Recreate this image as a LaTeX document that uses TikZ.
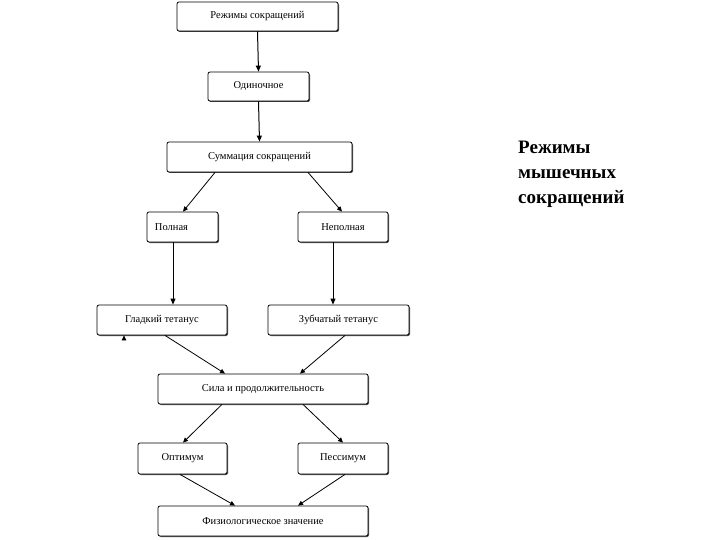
\documentclass[tikz,border=0pt]{standalone}
\usepackage{fontspec}
\setmainfont{Liberation Serif}
\usetikzlibrary{arrows.meta,shadows}
\begin{document}
\begin{tikzpicture}[x=1pt,y=-1pt,
 bx/.style={draw,rounded corners=2pt,line width=0.8pt,fill=white,
   drop shadow={shadow xshift=1pt,shadow yshift=-1pt,fill=black!70,opacity=1},
   font=\fontsize{10.5}{12}\selectfont,inner sep=0pt},
 ar/.style={-{Triangle[length=6pt,width=5pt]},line width=1pt},
 ar2/.style={-{Triangle[length=5pt,width=4.5pt]},line width=0.8pt}]
\useasboundingbox (0,0) rectangle (720,540);
\newcommand{\bb}[6]{\node[bx,minimum width=#3-#2,minimum height=#5-#4] (#1) at ({(#2+#3)/2},{(#4+#5)/2}) {#6};}
\bb{a}{177}{338}{2}{31}{Режимы сокращений}
\bb{b}{208}{309}{72}{101}{Одиночное}
\bb{c}{167}{352}{142}{172}{Суммация сокращений}
\bb{d}{147}{218}{212}{242}{\hspace*{-22pt}Полная}
\bb{e}{298}{388}{212}{242}{Неполная}
\bb{f}{97}{227}{305}{335}{Гладкий тетанус}
\bb{g}{268}{409}{305}{335}{Зубчатый тетанус}
\bb{h}{158}{368}{374}{404}{Сила и продолжительность}
\bb{i}{138}{227}{443}{474}{Оптимум}
\bb{j}{298}{388}{443}{474}{Пессимум}
\bb{k}{158}{368}{506}{536}{Физиологическое значение}
\draw[ar] (a.south) -- (b.north);
\draw[ar] (b.south) -- (c.north);
\draw[ar2] ([xshift=-44.5pt]c.south) -- ([xshift=0.5pt]d.north);
\draw[ar2] ([xshift=48.5pt]c.south) -- ([xshift=-1pt]e.north);
\draw[ar] ([xshift=-9.5pt]d.south) -- ([xshift=11pt]f.north);
\draw[ar] ([xshift=-10pt]e.south) -- ([xshift=-5.5pt]g.north);
\draw[ar2] ([xshift=-97pt]f.south) ++(59,0) coordinate (t1);
\draw[ar2] ([xshift=3pt]f.south) -- ([xshift=-38pt]h.north);
\draw[ar2] ([xshift=6.5pt]g.south) -- ([xshift=37pt]h.north);
\draw[ar2] ([xshift=-41pt]h.south) -- ([xshift=0.5pt]i.north);
\draw[ar2] ([xshift=40pt]h.south) -- ([xshift=0pt]j.north);
\draw[ar2] ([xshift=-2.5pt]i.south) -- ([xshift=-28pt]k.north);
\draw[ar2] ([xshift=2pt]j.south) -- ([xshift=35pt]k.north);
\node[anchor=north west,align=left,font=\bfseries\fontsize{19}{25}\selectfont,inner sep=0pt] (t) at (518,141) {Режимы\\мышечных\\сокращений};
\end{tikzpicture}
\end{document}
